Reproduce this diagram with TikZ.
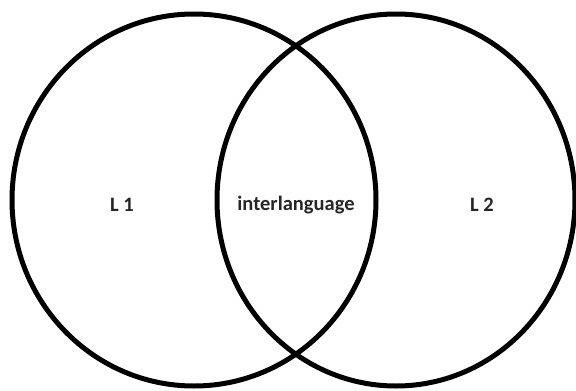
\documentclass[tikz,border=0pt]{standalone}
\usepackage{fontspec}
\setmainfont{Carlito}
\begin{document}
\begin{tikzpicture}[x=1pt,y=1pt,
  ring/.style={line width=5pt, draw=black},
  lbl/.style={font=\fontsize{20.5}{24}\selectfont\bfseries, text=black!85, inner sep=0pt}]
\useasboundingbox (0,0) rectangle (576,-391);
\fill[white] (0,0) rectangle (576,-391);
\draw[ring] (194,-200) ellipse [x radius=182, y radius=186];
\draw[ring] (396,-200) ellipse [x radius=179, y radius=186];
\node[lbl] (l1) at (122,-205) {L 1};
\node[lbl] (il) at (296,-205) {interlanguage};
\node[lbl] (l2) at (482,-205) {L 2};
\end{tikzpicture}
\end{document}
